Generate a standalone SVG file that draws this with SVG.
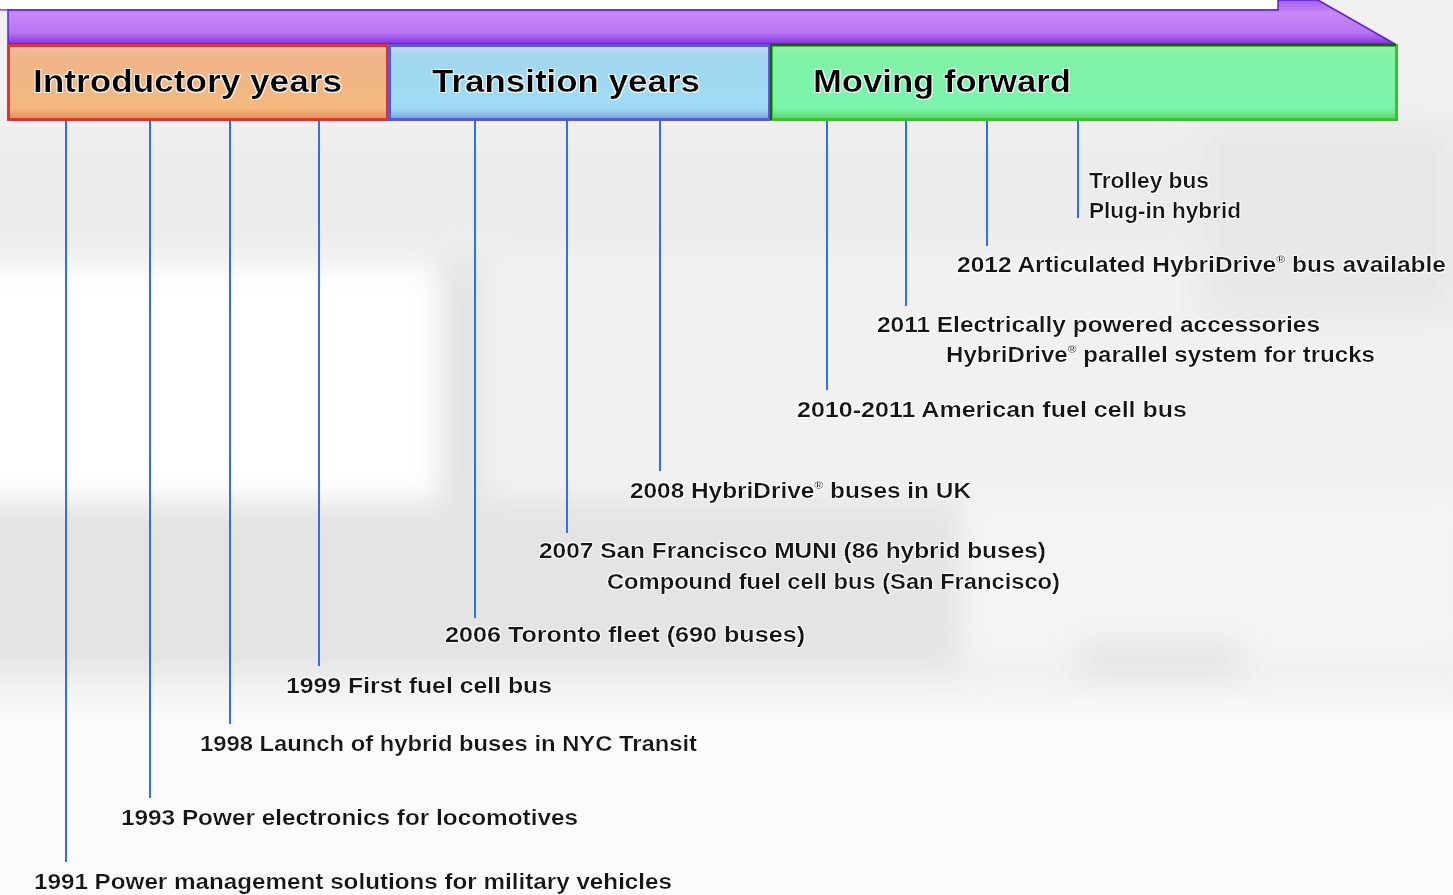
<svg xmlns="http://www.w3.org/2000/svg" width="1453" height="895" viewBox="0 0 1453 895">
<defs>
<linearGradient id="gPurple" x1="0" y1="0" x2="0" y2="1">
<stop offset="0" stop-color="#a15ef0"/><stop offset="0.3" stop-color="#c888f6"/><stop offset="0.75" stop-color="#b574f2"/><stop offset="1" stop-color="#8a2ee6"/>
</linearGradient>
<linearGradient id="gOrange" x1="0" y1="0" x2="0" y2="1">
<stop offset="0" stop-color="#efc0a8"/><stop offset="0.15" stop-color="#f0b48a"/><stop offset="0.85" stop-color="#f4b87e"/><stop offset="1" stop-color="#e88a5a"/>
</linearGradient>
<linearGradient id="gBlue" x1="0" y1="0" x2="0" y2="1">
<stop offset="0" stop-color="#c6dcf2"/><stop offset="0.15" stop-color="#a2d6f0"/><stop offset="0.85" stop-color="#9edcf4"/><stop offset="1" stop-color="#7a9ee0"/>
</linearGradient>
<linearGradient id="gGreen" x1="0" y1="0" x2="0" y2="1">
<stop offset="0" stop-color="#9cecb0"/><stop offset="0.15" stop-color="#80f2a6"/><stop offset="0.85" stop-color="#7cf4ae"/><stop offset="1" stop-color="#58d860"/>
</linearGradient>
<filter id="blur" x="-20%" y="-20%" width="140%" height="140%"><feGaussianBlur stdDeviation="14"/></filter>
<filter id="glow" x="-5%" y="-30%" width="110%" height="160%">
<feMorphology in="SourceAlpha" operator="dilate" radius="1.2" result="d"/>
<feFlood flood-color="#ffffff" flood-opacity="0.85"/><feComposite in2="d" operator="in" result="w"/>
<feMerge><feMergeNode in="w"/><feMergeNode in="SourceGraphic"/></feMerge>
</filter>
</defs>
<style>
.lbl{font-family:"Liberation Sans",Arial,sans-serif;font-weight:bold;font-size:22px;fill:#141414;filter:url(#glow)}
.hdr{font-family:"Liberation Sans",Arial,sans-serif;font-weight:bold;font-size:32px;fill:#000;filter:url(#glow)}
.reg{font-size:11px}
.tick{stroke:#2f6ff5;stroke-width:2;fill:none}
</style>

<!-- background (blurred photo approximation) -->
<g id="background">
<rect x="0" y="0" width="1453" height="895" fill="#f1f1f1"/>
<g filter="url(#blur)">
<rect x="-40" y="130" width="1500" height="120" fill="#ececec"/>
<rect x="-40" y="270" width="480" height="230" fill="#ffffff"/>
<rect x="440" y="260" width="40" height="260" fill="#e2e2e2"/>
<rect x="-40" y="500" width="1000" height="170" fill="#e4e4e4"/>
<rect x="960" y="500" width="500" height="150" fill="#f4f4f4"/>
<rect x="1080" y="640" width="160" height="40" fill="#e6e6e6"/>
<rect x="-40" y="700" width="1520" height="220" fill="#fbfbfb"/>
<rect x="1200" y="120" width="260" height="200" fill="#e8e8e8"/>
</g>
</g>

<!-- title strip & arrow -->
<g id="timeline-arrow">
<rect x="-2" y="-12" width="1282" height="22" rx="4" fill="#ffffff" stroke="#8a3ee8" stroke-width="1.5"/>
<path d="M8,10 H1278 V0 H1318 L1395,44 H8 Z" fill="url(#gPurple)" stroke="#5a20d0" stroke-width="1.5"/>
</g>

<!-- phase headers -->
<g id="phase-introductory">
<rect x="8.5" y="45.5" width="379" height="74" fill="url(#gOrange)" stroke="#d8362e" stroke-width="3"/>
<text class="hdr" x="33" y="92" textLength="309" lengthAdjust="spacingAndGlyphs">Introductory years</text>
</g>
<g id="phase-transition">
<rect x="389.5" y="45.5" width="380" height="74" fill="url(#gBlue)" stroke="#5a58d8" stroke-width="3"/>
<text class="hdr" x="432" y="92" textLength="268" lengthAdjust="spacingAndGlyphs">Transition years</text>
</g>
<g id="phase-moving">
<rect x="771.5" y="45.5" width="625" height="74" fill="url(#gGreen)" stroke="#3cc030" stroke-width="3"/>
<path d="M771,120 V45 H1396" fill="none" stroke="#1c5a2a" stroke-width="2"/>
<text class="hdr" x="813" y="92" textLength="258" lengthAdjust="spacingAndGlyphs">Moving forward</text>
</g>

<!-- connectors (ticks) -->
<g id="connectors">
<line class="tick" x1="66" y1="121" x2="66" y2="862"/>
<line class="tick" x1="150" y1="121" x2="150" y2="798"/>
<line class="tick" x1="230" y1="121" x2="230" y2="724"/>
<line class="tick" x1="319" y1="121" x2="319" y2="666"/>
<line class="tick" x1="475" y1="121" x2="475" y2="618"/>
<line class="tick" x1="567" y1="121" x2="567" y2="533"/>
<line class="tick" x1="660" y1="121" x2="660" y2="471"/>
<line class="tick" x1="827" y1="121" x2="827" y2="390"/>
<line class="tick" x1="906" y1="121" x2="906" y2="306"/>
<line class="tick" x1="987" y1="121" x2="987" y2="246"/>
<line class="tick" x1="1078" y1="121" x2="1078" y2="218"/>
</g>

<!-- events -->
<g id="ev-future">
<text class="lbl" x="1089" y="188" textLength="120" lengthAdjust="spacingAndGlyphs">Trolley bus</text>
<text class="lbl" x="1089" y="218" textLength="152" lengthAdjust="spacingAndGlyphs">Plug-in hybrid</text>
</g>
<g id="ev-2012">
<text class="lbl" x="957" y="272" textLength="489" lengthAdjust="spacingAndGlyphs">2012 Articulated HybriDrive<tspan class="reg" dy="-9">®</tspan><tspan dy="9"> bus available</tspan></text>
</g>
<g id="ev-2011">
<text class="lbl" x="877" y="332" textLength="443" lengthAdjust="spacingAndGlyphs">2011 Electrically powered accessories</text>
<text class="lbl" x="946" y="362" textLength="429" lengthAdjust="spacingAndGlyphs">HybriDrive<tspan class="reg" dy="-9">®</tspan><tspan dy="9"> parallel system for trucks</tspan></text>
</g>
<g id="ev-2010">
<text class="lbl" x="797" y="417" textLength="390" lengthAdjust="spacingAndGlyphs">2010-2011 American fuel cell bus</text>
</g>
<g id="ev-2008">
<text class="lbl" x="630" y="498" textLength="341" lengthAdjust="spacingAndGlyphs">2008 HybriDrive<tspan class="reg" dy="-9">®</tspan><tspan dy="9"> buses in UK</tspan></text>
</g>
<g id="ev-2007">
<text class="lbl" x="539" y="558" textLength="507" lengthAdjust="spacingAndGlyphs">2007 San Francisco MUNI (86 hybrid buses)</text>
<text class="lbl" x="607" y="589" textLength="453" lengthAdjust="spacingAndGlyphs">Compound fuel cell bus (San Francisco)</text>
</g>
<g id="ev-2006">
<text class="lbl" x="445" y="642" textLength="360" lengthAdjust="spacingAndGlyphs">2006 Toronto fleet (690 buses)</text>
</g>
<g id="ev-1999">
<text class="lbl" x="286" y="693" textLength="266" lengthAdjust="spacingAndGlyphs">1999 First fuel cell bus</text>
</g>
<g id="ev-1998">
<text class="lbl" x="200" y="751" textLength="497" lengthAdjust="spacingAndGlyphs">1998 Launch of hybrid buses in NYC Transit</text>
</g>
<g id="ev-1993">
<text class="lbl" x="121" y="825" textLength="457" lengthAdjust="spacingAndGlyphs">1993 Power electronics for locomotives</text>
</g>
<g id="ev-1991">
<text class="lbl" x="34" y="889" textLength="638" lengthAdjust="spacingAndGlyphs">1991 Power management solutions for military vehicles</text>
</g>
</svg>
